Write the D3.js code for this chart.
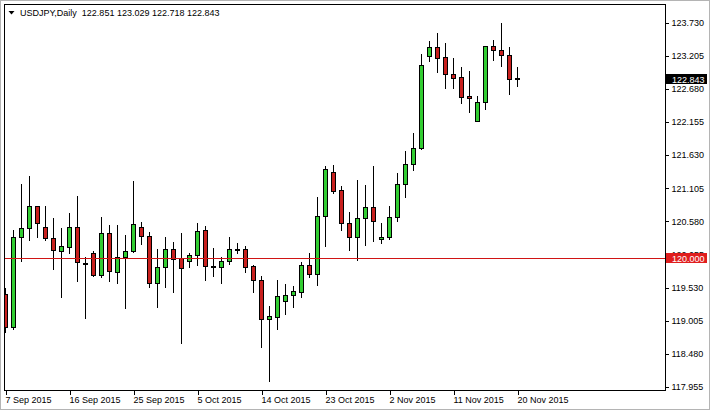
<!DOCTYPE html>
<html>
<head>
<meta charset="utf-8">
<script src="https://cdn.jsdelivr.net/npm/d3@7"></script>
<style>
  html, body { margin: 0; padding: 0; background: #ffffff; }
  svg { display: block; }
  text { font-family: "Liberation Sans", Arial, sans-serif; font-size: 9px; fill: #000; }
</style>
</head>
<body>
<svg id="chart" width="710" height="410"></svg>
<script>
// ---------- DATA ----------
const symbolTitle = "USDJPY,Daily";
const titleOHLC = ["122.851", "123.029", "122.718", "122.843"];

const dates = [
  "2015-09-07","2015-09-08","2015-09-09","2015-09-10","2015-09-11","2015-09-13","2015-09-14","2015-09-15",
  "2015-09-16","2015-09-17","2015-09-18","2015-09-20","2015-09-21","2015-09-22","2015-09-23","2015-09-24",
  "2015-09-25","2015-09-27","2015-09-28","2015-09-29","2015-09-30","2015-10-01","2015-10-02","2015-10-04",
  "2015-10-05","2015-10-06","2015-10-07","2015-10-08","2015-10-09","2015-10-11","2015-10-12","2015-10-13",
  "2015-10-14","2015-10-15","2015-10-16","2015-10-18","2015-10-19","2015-10-20","2015-10-21","2015-10-22",
  "2015-10-23","2015-10-25","2015-10-26","2015-10-27","2015-10-28","2015-10-29","2015-10-30","2015-11-01",
  "2015-11-02","2015-11-03","2015-11-04","2015-11-05","2015-11-06","2015-11-08","2015-11-09","2015-11-10",
  "2015-11-11","2015-11-12","2015-11-13","2015-11-15","2015-11-16","2015-11-17","2015-11-18","2015-11-19",
  "2015-11-20"
];

const openPrices = [
  119.429,118.911,120.328,120.471,120.824,120.487,120.312,120.116,
  120.179,120.496,119.921,120.074,119.731,120.391,119.783,120.011,
  120.116,120.487,120.349,119.599,119.853,120.138,119.995,119.952,
  120.043,120.439,119.878,119.862,119.952,120.143,120.143,119.873,
  119.647,119.029,119.070,119.323,119.414,119.466,119.884,119.751,
  120.666,121.358,121.073,120.550,120.328,120.629,120.803,120.296,
  120.328,120.645,121.168,121.485,121.748,123.206,123.339,123.181,
  122.911,122.868,122.567,122.176,122.468,123.355,123.292,123.212,
  122.851
];
const highPrices = [
  119.520,120.444,121.173,121.300,120.830,120.824,120.629,120.471,
  120.708,120.983,120.011,120.116,120.645,120.523,120.523,120.365,
  121.220,120.566,120.417,120.138,120.328,120.258,120.401,120.074,
  120.559,120.507,120.154,120.011,120.328,120.233,120.195,119.889,
  119.719,119.239,119.651,119.588,119.556,119.941,120.074,120.971,
  121.458,121.474,121.141,120.729,121.236,121.157,121.458,120.550,
  120.824,121.352,121.696,121.976,123.228,123.439,123.561,123.403,
  123.165,123.032,122.964,122.572,123.365,123.455,123.719,123.339,
  123.029
];
const lowPrices = [
  118.832,118.870,119.957,120.285,120.338,120.285,119.826,119.387,
  120.084,119.635,119.044,119.715,119.694,119.640,119.609,119.203,
  120.095,120.222,119.536,119.228,119.536,119.466,118.658,119.853,
  119.889,119.651,119.715,119.609,119.910,120.074,119.783,119.466,
  118.594,118.055,118.875,119.113,119.219,119.387,119.704,119.572,
  120.190,121.035,120.444,120.127,119.960,120.198,120.265,120.233,
  120.296,120.586,120.971,121.395,121.727,123.122,122.943,122.699,
  122.699,122.461,122.319,122.170,122.357,123.138,123.048,122.594,
  122.718
];
const closePrices = [
  118.911,120.328,120.471,120.824,120.550,120.312,120.127,120.185,
  120.496,119.937,119.921,119.731,120.391,119.794,120.021,120.111,
  120.539,120.349,119.599,119.853,120.138,119.979,119.837,120.043,
  120.428,119.868,119.878,119.952,120.143,120.143,119.862,119.647,
  119.029,119.081,119.398,119.414,119.472,119.884,119.751,120.666,
  121.410,121.062,120.550,120.325,120.629,120.803,120.583,120.328,
  120.645,121.168,121.490,121.738,123.059,123.339,123.174,122.911,
  122.857,122.556,122.531,122.468,123.360,123.292,123.212,122.832,
  122.843
];

const yTickValues = [117.955,118.480,119.005,119.530,120.055,120.580,121.105,121.630,122.155,122.680,123.205,123.730];
const xTickDates  = ["2015-09-07","2015-09-16","2015-09-25","2015-10-05","2015-10-14","2015-10-23","2015-11-02","2015-11-11","2015-11-20"];
const xTickLabels = ["7 Sep 2015","16 Sep 2015","25 Sep 2015","5 Oct 2015","14 Oct 2015","23 Oct 2015","2 Nov 2015","11 Nov 2015","20 Nov 2015"];
const levelPrice = 120.000;
const lastPrice = 122.843;

// ---------- LAYOUT ----------
const W = 710, H = 410;
const box = { left: 4, top: 4, right: 665, bottom: 390 };
const bullColor = "#32cd32", bearColor = "#c8201e";

const svg = d3.select("#chart");

// outer frame
svg.append("rect").attr("x", 0.5).attr("y", 0.5).attr("width", W - 1).attr("height", H - 1)
  .attr("fill", "#ffffff").attr("stroke", "#b4b4b4");

const x = d3.scalePoint().domain(dates).range([5.5, 5.5 + 8 * (dates.length - 1)]);
const y = d3.scaleLinear().domain([117.955, 123.730]).range([387, 22.6]);

// clip
svg.append("clipPath").attr("id", "plotClip").append("rect")
  .attr("x", box.left + 1).attr("y", box.top + 1)
  .attr("width", box.right - box.left - 1).attr("height", box.bottom - box.top - 1);

const plot = svg.append("g").attr("clip-path", "url(#plotClip)");

const candles = dates.map((d, i) => ({
  d, o: openPrices[i], h: highPrices[i], l: lowPrices[i], c: closePrices[i]
}));

// wicks
plot.selectAll("line.wick").data(candles).join("line")
  .attr("class", "wick")
  .attr("x1", d => x(d.d)).attr("x2", d => x(d.d))
  .attr("y1", d => Math.round(y(d.h))).attr("y2", d => Math.round(y(d.l)) + 1)
  .attr("stroke", "#000").attr("stroke-width", 1)
  .attr("shape-rendering", "crispEdges");

// bodies
plot.selectAll("rect.body").data(candles).join("rect")
  .attr("class", "body")
  .attr("x", d => x(d.d) - 2)
  .attr("y", d => Math.round(y(Math.max(d.o, d.c))) + 0.5)
  .attr("width", 4)
  .attr("height", d => Math.max(1, Math.round(y(Math.min(d.o, d.c))) - Math.round(y(Math.max(d.o, d.c)))))
  .attr("fill", d => d.o === d.c ? "#000" : (d.c > d.o ? bullColor : bearColor))
  .attr("stroke", "#000").attr("stroke-width", 1)
  .attr("shape-rendering", "crispEdges");

// horizontal level line
plot.append("line")
  .attr("x1", box.left).attr("x2", box.right)
  .attr("y1", Math.round(y(levelPrice)) + 0.5).attr("y2", Math.round(y(levelPrice)) + 0.5)
  .attr("stroke", "#d01414").attr("stroke-width", 1);

// plot box
svg.append("rect")
  .attr("x", box.left + 0.5).attr("y", box.top + 0.5)
  .attr("width", box.right - box.left).attr("height", box.bottom - box.top)
  .attr("fill", "none").attr("stroke", "#000").attr("stroke-width", 1)
  .attr("shape-rendering", "crispEdges");

// right axis
const yAxis = d3.axisRight(y).tickValues(yTickValues).tickSize(3).tickPadding(3)
  .tickFormat(d3.format(".3f"));
const gy = svg.append("g").attr("transform", `translate(${box.right + 0.5},0)`).call(yAxis);
gy.select(".domain").remove();
gy.selectAll(".tick line").attr("stroke", "#000").attr("shape-rendering", "crispEdges");
gy.selectAll(".tick text").attr("font-family", null).attr("font-size", null).attr("fill", "#000");

// bottom axis
const labelFor = new Map(xTickDates.map((d, i) => [d, xTickLabels[i]]));
const xAxis = d3.axisBottom(x).tickValues(xTickDates).tickSize(4).tickPadding(2)
  .tickFormat(d => labelFor.get(d));
const gx = svg.append("g").attr("transform", `translate(0,${box.bottom + 0.5})`).call(xAxis);
gx.select(".domain").remove();
gx.selectAll(".tick line").attr("stroke", "#000").attr("shape-rendering", "crispEdges");
gx.selectAll(".tick text").attr("font-family", null).attr("font-size", null)
  .attr("text-anchor", "start").attr("x", -0.5).attr("fill", "#000");

// price labels on the axis
function priceTag(price, bg) {
  const yy = y(price);
  const g = svg.append("g");
  g.append("rect").attr("x", box.right + 1).attr("y", Math.round(yy) - 5)
    .attr("width", 41).attr("height", 10).attr("fill", bg);
  g.append("text").attr("x", box.right + 7).attr("y", Math.round(yy) + 3.5)
    .style("fill", "#fff").text(d3.format(".3f")(price));
}
priceTag(levelPrice, "#e01e1e");
priceTag(lastPrice, "#000000");

// title
svg.append("path").attr("d", "M8.5,11 L14.5,11 L11.5,14.5 Z").attr("fill", "#000");
svg.append("text").attr("x", 20).attr("y", 16)
  .attr("xml:space", "preserve")
  .text(symbolTitle + "  " + titleOHLC.join(" "));
</script>
</body>
</html>
